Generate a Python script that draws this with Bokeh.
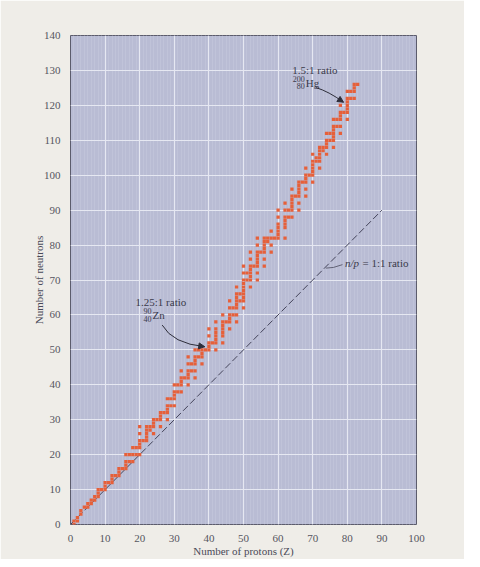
from bokeh.plotting import figure
from bokeh.models import ColumnDataSource, SingleIntervalTicker, Arrow, NormalHead
from bokeh.core.properties import value
from bokeh.embed import file_html
from bokeh.resources import INLINE

# Stable nuclides: number of protons (Z) and the neutron numbers (N) of its stable isotopes
stable_Z = list(range(1, 84))
stable_N = [
    [0, 1], [1, 2], [3, 4], [5], [5, 6], [6, 7], [7, 8], [8, 9, 10], [10], [10, 11, 12],
    [12], [12, 13, 14], [14], [14, 15, 16], [16], [16, 17, 18, 20], [18, 20], [18, 20, 22], [20, 22], [20, 22, 23, 24, 26, 28],
    [24], [24, 25, 26, 27, 28], [27, 28], [26, 28, 29, 30], [30], [28, 30, 31, 32], [32], [30, 32, 33, 34, 36], [34, 36], [34, 36, 37, 38, 40],
    [38, 40], [38, 40, 41, 42, 44], [42], [40, 42, 43, 44, 46, 48], [44, 46], [42, 44, 46, 47, 48, 50], [48, 50], [46, 48, 49, 50], [50], [50, 51, 52, 54, 56],
    [52], [50, 52, 53, 54, 55, 56, 58], [], [52, 54, 55, 56, 57, 58, 60], [58], [56, 58, 59, 60, 62, 64], [60, 62], [58, 60, 62, 63, 64, 65, 66, 68], [64, 66], [62, 64, 65, 66, 67, 68, 69, 70, 72, 74],
    [70, 72], [68, 70, 71, 72, 73, 74, 76, 78], [74], [70, 72, 74, 75, 76, 77, 78, 80, 82], [78], [74, 76, 78, 79, 80, 81, 82], [81, 82], [78, 80, 82, 84], [82], [82, 83, 84, 85, 86, 88, 90],
    [], [82, 85, 86, 87, 88, 90, 92], [88, 90], [88, 90, 91, 92, 93, 94, 96], [94], [90, 92, 94, 95, 96, 97, 98], [98], [94, 96, 98, 99, 100, 102], [100], [98, 100, 101, 102, 103, 104, 106],
    [104, 105], [102, 104, 105, 106, 107, 108], [107, 108], [106, 108, 109, 110, 112], [110, 112], [108, 110, 111, 112, 113, 114, 116], [114, 116], [112, 114, 116, 117, 118, 120], [118], [116, 118, 119, 120, 121, 122, 124],
    [122, 124], [122, 124, 125, 126], [126],
]
ratio_line_Z = [0, 90]
ratio_line_N = [0, 90]
x_ticks_max = 100
y_ticks_max = 140

zs, ns = [], []
for z, nlist in zip(stable_Z, stable_N):
    for n in nlist:
        zs.append(z)
        ns.append(n)
src = ColumnDataSource(dict(Z=zs, N=ns))

SERIF = value("Liberation Serif")
TXT = "#3a3a4a"

p = figure(width=464, height=559, x_range=(0, x_ticks_max), y_range=(0, y_ticks_max),
           output_backend="svg", toolbar_location=None,
           min_border_left=70, min_border_right=48, min_border_top=35, min_border_bottom=34)

p.background_fill_color = "#b9bcd4"
p.border_fill_color = "#efede8"
p.outline_line_color = "#5c5c6c"
p.outline_line_width = 1

p.xaxis.ticker = SingleIntervalTicker(interval=10, num_minor_ticks=10)
p.yaxis.ticker = SingleIntervalTicker(interval=10, num_minor_ticks=0)
p.xgrid.grid_line_color = "#e6e8f2"
p.ygrid.grid_line_color = "#e6e8f2"
p.xgrid.grid_line_width = 1.2
p.ygrid.grid_line_width = 1.2
p.xgrid.minor_grid_line_color = "#c0c3d9"
p.xgrid.minor_grid_line_width = 1

for ax in (p.xaxis[0], p.yaxis[0]):
    ax.axis_line_color = None
    ax.major_tick_line_color = None
    ax.minor_tick_line_color = None
    ax.major_label_text_font = "Liberation Serif"
    ax.major_label_text_font_size = "11px"
    ax.major_label_text_color = "#555560"
    ax.axis_label_text_font = "Liberation Serif"
    ax.axis_label_text_font_size = "11px"
    ax.axis_label_text_font_style = "normal"
    ax.axis_label_text_color = "#4a4a58"
    ax.major_label_standoff = 4

p.xaxis.axis_label_standoff = 0
p.yaxis.axis_label_standoff = -4
p.xaxis.axis_label = "Number of protons (Z)"
p.yaxis.axis_label = "Number of neutrons"

# n/p = 1:1 line
p.line(ratio_line_Z, ratio_line_N, line_color="#44445a", line_width=1, line_dash="7 3")

# stable nuclides
p.rect(x="Z", y="N", width=0.95, height=0.92, source=src,
       fill_color="#e6603a", line_color=None)

# annotations
def label(x, y, t, size="11px", style="normal", align="left"):
    p.text(x=[x], y=[y], text=[t], text_font=SERIF, text_font_size=size,
           text_font_style=style, text_color=TXT, text_align=align, text_baseline="middle")

label(64.1, 130.0, "1.5:1 ratio")
label(67.7, 127.6, "200", size="8px", align="right")
label(67.7, 125.4, "80", size="8px", align="right")
label(68.0, 126.5, "Hg", size="11px")

label(18.8, 63.8, "1.25:1 ratio")
label(23.4, 61.1, "90", size="8px", align="right")
label(23.4, 58.8, "40", size="8px", align="right")
label(23.7, 59.9, "Zn", size="11px")

label(79.3, 74.9, "n/p", style="italic")
label(84.4, 74.9, "= 1:1 ratio")

ARROW_C = "#2e2e3a"
p.quadratic(x0=[70.9], y0=[125.1], x1=[78.9], y1=[120.9], cx=[74.6], cy=[124.0],
            line_color=ARROW_C, line_width=1)
p.add_layout(Arrow(end=NormalHead(size=6, fill_color=ARROW_C, line_color=ARROW_C),
                   x_start=77.5, y_start=121.8, x_end=78.9, y_end=120.9,
                   line_color=ARROW_C, line_width=1))

p.quadratic(x0=[26.5], y0=[57.1], x1=[38.8], y1=[50.9], cx=[29.5], cy=[51.8],
            line_color=ARROW_C, line_width=1)
p.add_layout(Arrow(end=NormalHead(size=6, fill_color=ARROW_C, line_color=ARROW_C),
                   x_start=37.0, y_start=51.15, x_end=38.8, y_end=50.9,
                   line_color=ARROW_C, line_width=1))

p.line([78.6, 76.0, 73.8], [74.4, 73.6, 73.4], line_color="#4a4a5c", line_width=0.8)

open("out.html", "w").write(file_html(p, INLINE))
